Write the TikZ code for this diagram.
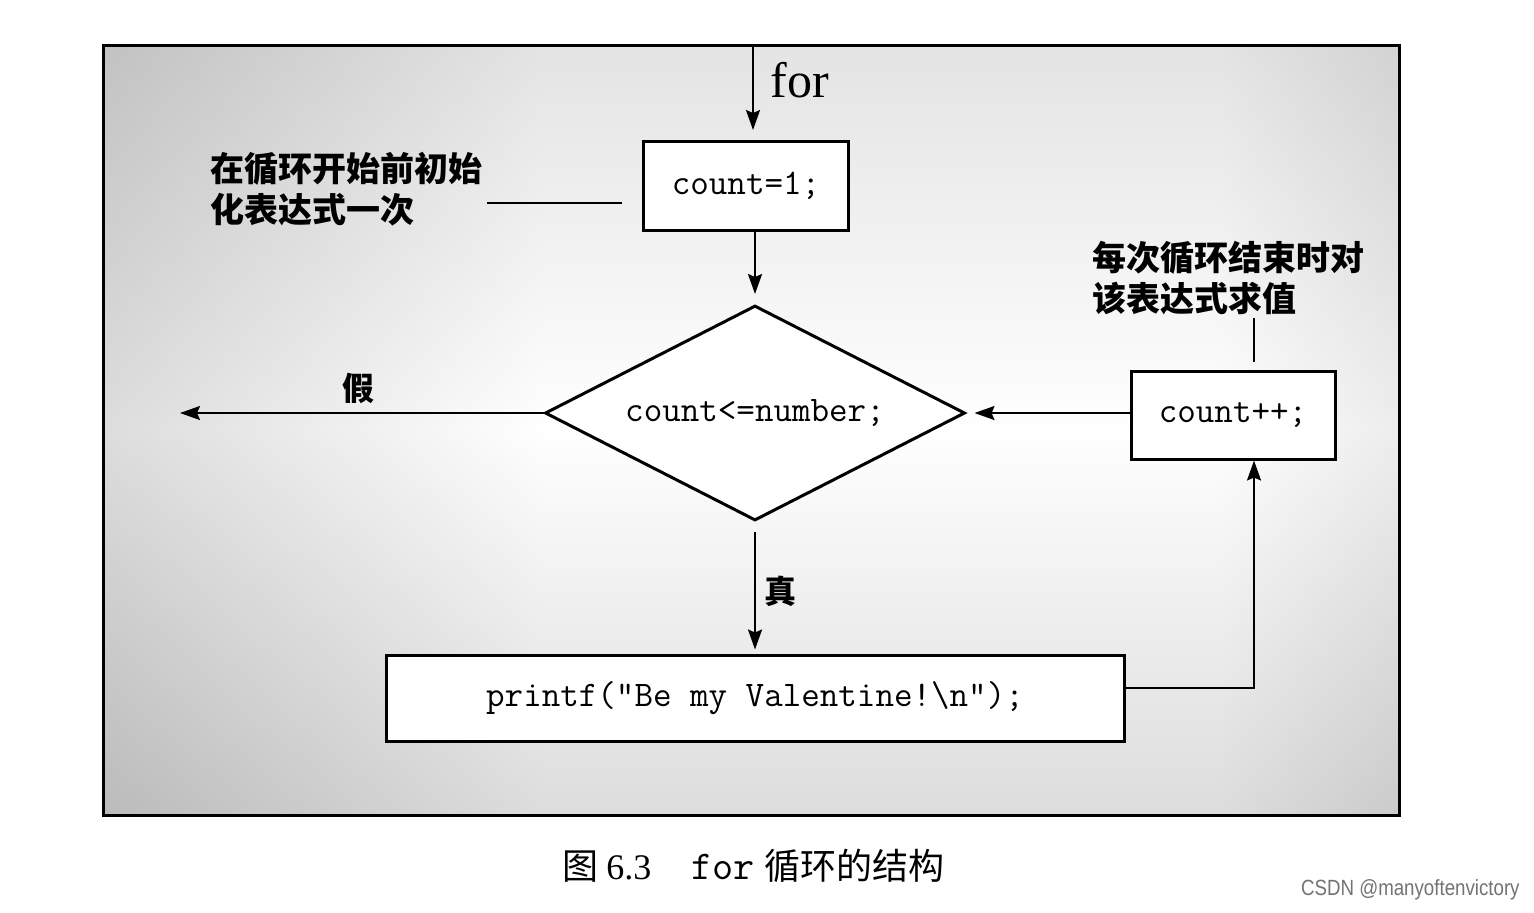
\documentclass[tikz,border=0pt]{standalone}
\usepackage{fontspec}
\setmainfont{Liberation Serif}
\newfontfamily\cjk{Noto Sans CJK SC}
\newfontfamily\wm{Liberation Sans}
\usetikzlibrary{shapes.geometric,arrows.meta}
\pgfdeclarehorizontalshading{bgshade}{100bp}{color(0bp)=(black!45); color(22bp)=(black!24); color(42bp)=(white); color(68bp)=(white); color(86bp)=(black!27); color(100bp)=(black!50)}
\begin{document}
\begin{tikzpicture}[x=0.5pt,y=-0.5pt,
  box/.style={draw=black, line width=1.5pt, fill=white, inner sep=0pt,
              font=\ttfamily\fontsize{18}{20}\selectfont},
  conn/.style={line width=1pt, -{Stealth[length=10pt,width=7pt,inset=1.5pt]}},
  plainline/.style={line width=1pt},
  note/.style={font=\cjk\bfseries\fontsize{17}{20.5}\selectfont, align=left, inner sep=0pt},
  lbl/.style={font=\cjk\bfseries\fontsize{16}{18}\selectfont, inner sep=0pt},
]
\useasboundingbox (0,0) rectangle (1534,912);
\fill[white] (0,0) rectangle (1534,912);
% background panel
\shade[shading=bgshade] (103,45) rectangle (1399,815);
\shade[top color=black!30, bottom color=black!38, middle color=white, opacity=0.35] (103,45) rectangle (1399,815);
\draw[line width=1.5pt] (103,45) rectangle (1399,815);

% nodes
\node[box, minimum width=102.5pt, minimum height=44.5pt] (init) at (746,186) {count=1;};
\node[draw=black, diamond, aspect=2, line width=1.5pt, fill=white, inner sep=0pt,
      minimum width=210pt, minimum height=107.5pt,
      font=\ttfamily\fontsize{18}{20}\selectfont] (test) at (755,413) {count<=number;};
\node[box, minimum width=102pt, minimum height=44pt] (upd) at (1233,415) {count++;};
\node[box, minimum width=369pt, minimum height=43pt] (body) at (755,698)
  {printf("Be my Valentine!\textbackslash n");};

% labels
\node[font=\rmfamily\fontsize{25}{28}\selectfont, inner sep=0pt] (forlbl) at (800,80) {for};
\node[note, anchor=west] (n1) at (210,189) {在循环开始前初始\\化表达式一次};
\node[note, anchor=west] (n2) at (1092,278) {每次循环结束时对\\该表达式求值};
\node[lbl] (falselbl) at (358,388) {假};
\node[lbl] (truelbl) at (780,591) {真};

% free ends
\coordinate (in) at (753,46);
\coordinate (exit) at (180,413);
\coordinate (loop) at (1254,688);
\coordinate (n1a) at (487,203);
\coordinate (n1b) at (622,203);
\coordinate (n2a) at (1254,318);
\coordinate (n2b) at (1254,362);

% connectors
\draw[conn, shorten >=5pt] (in) -- (init.north -| in);
\draw[conn, shorten >=5pt] (init.south -| test.north) -- (test.north);
\draw[conn] (test.west) -- (exit);
\draw[conn, shorten <=5pt, shorten >=2pt] (test.south) -- (body.north -| test.south);
\draw[conn] (body.east |- loop) -- (loop) -- (upd.south -| loop);
\draw[conn, shorten >=4pt] (upd.west |- test.east) -- (test.east);
\draw[plainline] (n1a) -- (n1b);
\draw[plainline] (n2a) -- (n2b);

% caption
\node[anchor=west, inner sep=0pt, font=\fontsize{18}{20}\selectfont] (cap) at (562,866)
  {{\cjk 图}\hspace{4pt}6.3\hspace{20pt}{\ttfamily\fontsize{20.5}{22}\selectfont for}\hspace{5pt}{\cjk 循环的结构}};
\node[anchor=east, inner sep=0pt, font=\wm\fontsize{11}{13}\selectfont, text=black!55] (wmk) at (1520,890)
  {\scalebox{0.85}[1]{CSDN @manyoftenvictory}};
\end{tikzpicture}
\end{document}
